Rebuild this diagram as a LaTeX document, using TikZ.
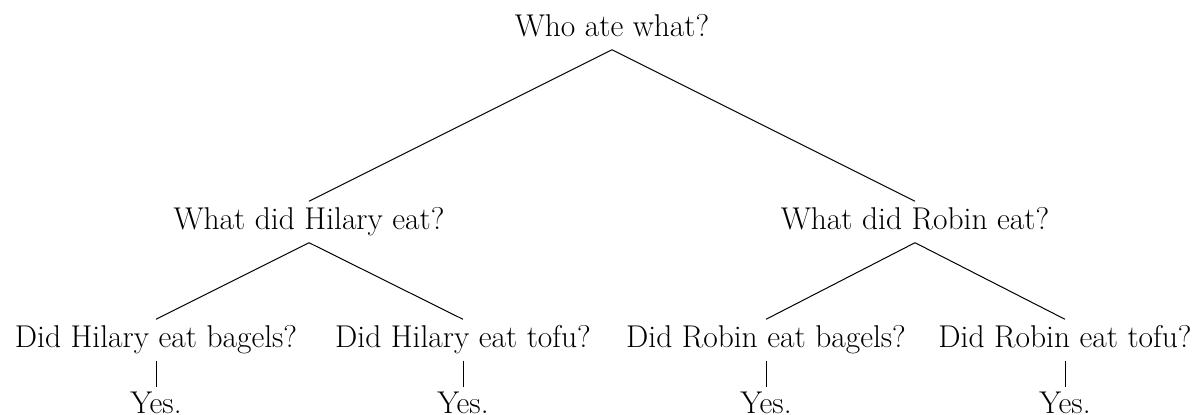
\documentclass[tikz,border=0pt]{standalone}
\usepackage{fontspec}
\begin{document}
\begin{tikzpicture}[x=1pt,y=-1pt,
  lbl/.style={font=\fontsize{31.5}{36}\selectfont, anchor=base, inner xsep=0pt, inner ysep=0pt, text height=27.5pt, text depth=13.5pt},
  leaf/.style={lbl, text height=25.5pt, text depth=0pt},
  edge/.style={draw=black, line width=1pt}]
\useasboundingbox (0,0) rectangle (1192,415);
\node[lbl] (root) at (612,36) {Who ate what?};
\node[lbl] (h) at (309,229) {What did Hilary eat?};
\node[lbl] (r) at (915,229) {What did Robin eat?};
\node[lbl] (hb) at (156,347) {Did Hilary eat bagels?};
\node[lbl] (ht) at (463,347) {Did Hilary eat tofu?};
\node[lbl] (rb) at (766,347) {Did Robin eat bagels?};
\node[lbl] (rt) at (1065,347) {Did Robin eat tofu?};
\node[leaf] (hby) at (156,413) {Yes.};
\node[leaf] (hty) at (463,413) {Yes.};
\node[leaf] (rby) at (766,413) {Yes.};
\node[leaf] (rty) at (1065,413) {Yes.};
\draw[edge] (root.south) -- (h.north);
\draw[edge] (root.south) -- (r.north);
\draw[edge] (h.south) -- (hb.north);
\draw[edge] (h.south) -- (ht.north);
\draw[edge] (r.south) -- (rb.north);
\draw[edge] (r.south) -- (rt.north);
\draw[edge] (hb.south) -- (hby.north);
\draw[edge] (ht.south) -- (hty.north);
\draw[edge] (rb.south) -- (rby.north);
\draw[edge] (rt.south) -- (rty.north);
\end{tikzpicture}
\end{document}
